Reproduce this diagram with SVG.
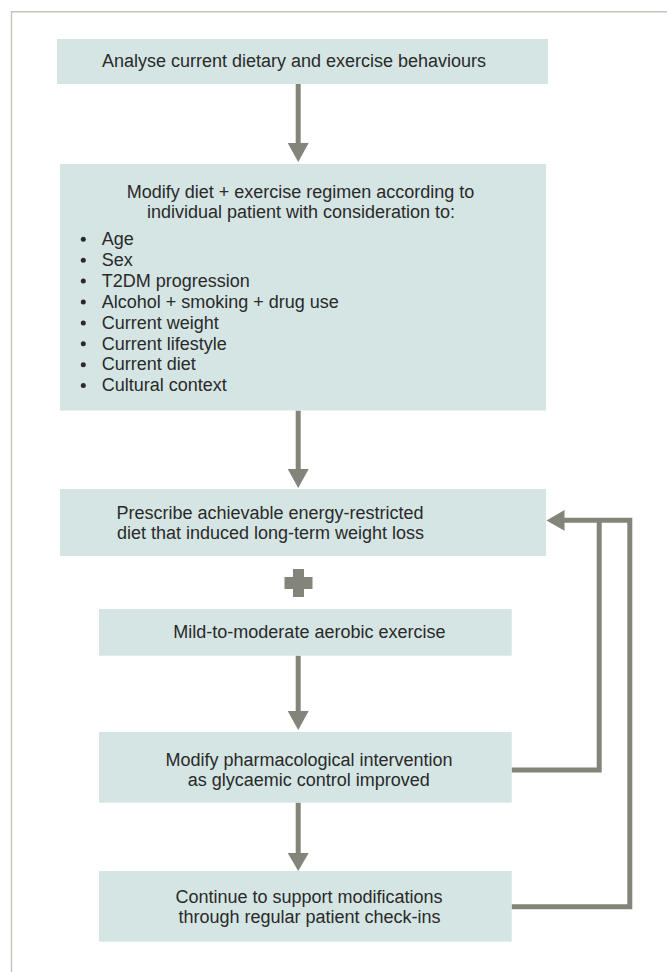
<svg xmlns="http://www.w3.org/2000/svg" width="667" height="972" viewBox="0 0 667 972">
  <style>
    .box { fill: #d4e5e3; }
    .t { font-family: "Liberation Sans", Arial, sans-serif; font-size: 18px; fill: #2a2a2a; }
    .c { text-anchor: middle; }
    .line { fill: none; stroke: #83847a; stroke-width: 5; stroke-linejoin: miter; stroke-linecap: butt; }
    .head { fill: #83847a; }
    .frame { fill: none; stroke: #c2c4b6; stroke-width: 1.4; }
  </style>
  <rect x="0" y="0" width="667" height="972" fill="#ffffff"/>
  <path class="frame" d="M11.5,972 V11.8 H667"/>

  <g id="connectors">
    <line class="line" x1="298.2" y1="84" x2="298.2" y2="144"/>
    <polygon class="head" points="287.7,143 308.7,143 298.2,162"/>
    <line class="line" x1="298.2" y1="410.5" x2="298.2" y2="470"/>
    <polygon class="head" points="287.7,469 308.7,469 298.2,488"/>
    <line class="line" x1="298.2" y1="655.5" x2="298.2" y2="712"/>
    <polygon class="head" points="287.7,711 308.7,711 298.2,730"/>
    <line class="line" x1="298.2" y1="802.5" x2="298.2" y2="854"/>
    <polygon class="head" points="287.7,853 308.7,853 298.2,871"/>
    <path class="line" d="M511.5,770 H599.2 V520.2"/>
    <path class="line" d="M511.5,906.8 H629.8 V520.2 H563"/>
    <polygon class="head" points="546.5,520.4 564.5,510 564.5,530.8"/>
    <g id="plus" class="head">
      <rect x="293" y="569" width="11" height="28"/>
      <rect x="284.5" y="577" width="28" height="12"/>
    </g>
  </g>

  <g id="node1">
    <rect class="box" x="57" y="39" width="491" height="45"/>
    <text class="t c" x="294" y="67">Analyse current dietary and exercise behaviours</text>
  </g>

  <g id="node2">
    <rect class="box" x="60" y="164" width="486" height="246.5"/>
    <text class="t c" x="300.5" y="197.5">Modify diet + exercise regimen according to</text>
    <text class="t c" x="301" y="217.5">individual patient with consideration to:</text>
    <g class="head" fill="#2a2a2a" style="fill:#2a2a2a">
      <circle cx="83.3" cy="239.3" r="2.5"/>
      <circle cx="83.3" cy="260.2" r="2.5"/>
      <circle cx="83.3" cy="281.1" r="2.5"/>
      <circle cx="83.3" cy="302" r="2.5"/>
      <circle cx="83.3" cy="322.9" r="2.5"/>
      <circle cx="83.3" cy="343.8" r="2.5"/>
      <circle cx="83.3" cy="364.7" r="2.5"/>
      <circle cx="83.3" cy="385.6" r="2.5"/>
    </g>
    <text class="t" x="101.7" y="245">Age</text>
    <text class="t" x="101.7" y="265.9">Sex</text>
    <text class="t" x="101.7" y="286.8">T2DM progression</text>
    <text class="t" x="101.7" y="307.7">Alcohol + smoking + drug use</text>
    <text class="t" x="101.7" y="328.6">Current weight</text>
    <text class="t" x="101.7" y="349.5">Current lifestyle</text>
    <text class="t" x="101.7" y="370.4">Current diet</text>
    <text class="t" x="101.7" y="391.3">Cultural context</text>
  </g>

  <g id="node3">
    <rect class="box" x="60" y="489" width="486" height="67"/>
    <text class="t c" x="270" y="518.5">Prescribe achievable energy-restricted</text>
    <text class="t c" x="270.5" y="538.5">diet that induced long-term weight loss</text>
  </g>

  <g id="node4">
    <rect class="box" x="99" y="609" width="412.7" height="46.7"/>
    <text class="t c" x="309.4" y="637.5">Mild-to-moderate aerobic exercise</text>
  </g>

  <g id="node5">
    <rect class="box" x="99" y="732" width="412.7" height="70.7"/>
    <text class="t c" x="309" y="766">Modify pharmacological intervention</text>
    <text class="t c" x="308.8" y="786">as glycaemic control improved</text>
  </g>

  <g id="node6">
    <rect class="box" x="99" y="871" width="412.7" height="70.7"/>
    <text class="t c" x="309" y="903.3">Continue to support modifications</text>
    <text class="t c" x="309.5" y="923.3">through regular patient check-ins</text>
  </g>
</svg>
